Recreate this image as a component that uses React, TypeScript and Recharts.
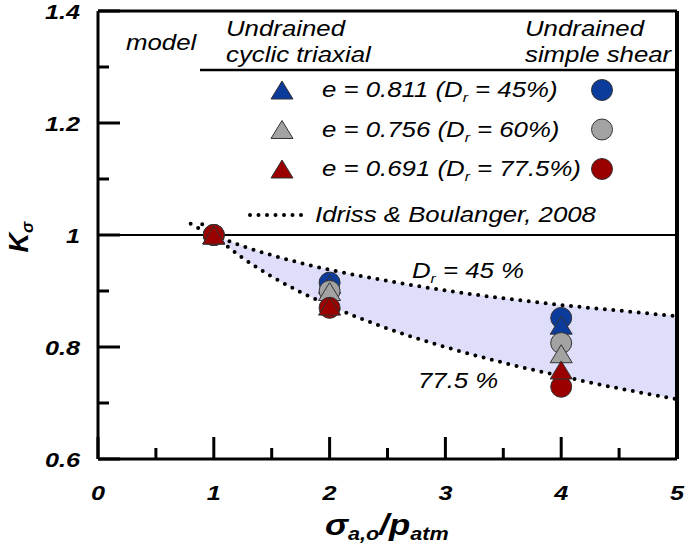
import {
  Area,
  ComposedChart,
  Customized,
  Line,
  ReferenceLine,
  Scatter,
  XAxis,
  YAxis,
} from "recharts";

// Idriss & Boulanger (2008) curves
const curveX = [0.8, 0.9, 1, 1.25, 1.5, 1.75, 2, 2.5, 3, 3.5, 4, 4.5, 5];
const idriss45 = [1.02, 1.009, 1.0, 0.98, 0.964, 0.95, 0.938, 0.918, 0.901, 0.887, 0.875, 0.865, 0.855];
const idriss775 = [null, 1.019, 1.0, 0.959, 0.926, 0.898, 0.874, 0.833, 0.8, 0.772, 0.748, 0.726, 0.707];

// measured K_sigma
const stressRatio = [1, 2, 4];
const ssBlue = [1.0, 0.915, 0.852];
const ssGray = [1.0, 0.9, 0.807];
const ssRed = [1.0, 0.87, 0.729];
const txBlue = [1.0, 0.912, 0.839];
const txGray = [1.0, 0.899, 0.788];
const txRed = [1.0, 0.873, 0.759];

const xTicks = [0, 0.5, 1, 1.5, 2, 2.5, 3, 3.5, 4, 4.5, 5];
const yTicks = [0.6, 0.7, 0.8, 0.9, 1.0, 1.1, 1.2, 1.3, 1.4];

const BLUE = "#0b3b9b";
const GRAY = "#a3a3a3";
const RED = "#9a0000";
const BAND = "#dedefa";
const FONT = "'Liberation Sans', Arial, sans-serif";
const SX = 1.2;
const TXT = 21.5;

const curveRows = curveX.map((x, i) => ({
  x,
  dr45: idriss45[i],
  dr775: idriss775[i],
  band: x >= 1 && idriss775[i] !== null ? [idriss775[i], idriss45[i]] : null,
}));

const pts = (ys: number[]) => stressRatio.map((x, i) => ({ x, y: ys[i] }));

function T({ x, y, size, bold, anchor, children }: any) {
  return (
    <text
      transform={`translate(${x} ${y}) scale(${SX} 1)`}
      fontFamily={FONT}
      fontSize={size}
      fontStyle="italic"
      fontWeight={bold ? "bold" : "normal"}
      textAnchor={anchor ?? "start"}
      fill="#000"
    >
      {children}
    </text>
  );
}

const circle = (fill: string) => (p: any) =>
  <circle cx={p.cx} cy={p.cy} r={10.5} fill={fill} stroke="#333" strokeWidth={1} />;

const triangle = (fill: string) => (p: any) =>
  (
    <polygon
      points={`${p.cx},${p.cy - 9} ${p.cx - 11},${p.cy + 9} ${p.cx + 11},${p.cy + 9}`}
      fill={fill}
      stroke="#333"
      strokeWidth={1}
    />
  );

function XTick({ x, y, payload }: any) {
  const v = payload.value;
  const major = Number.isInteger(v);
  return (
    <g>
      <line x1={x} x2={x} y1={y} y2={y - (major ? 22 : 11)} stroke="#000" strokeWidth={3} />
      {major && (
        <T x={x} y={y + 41} size={21} bold anchor="middle">
          {v}
        </T>
      )}
    </g>
  );
}

function YTick({ x, y, payload }: any) {
  const v = payload.value;
  const major = Math.round(v * 10) % 2 === 0;
  return (
    <g>
      <line x1={x} x2={x + (major ? 22 : 11)} y1={y} y2={y} stroke="#000" strokeWidth={3} />
      {major && (
        <T x={x - 18} y={y + 7.5} size={21} bold anchor="end">
          {String(Number(v.toFixed(1)))}
        </T>
      )}
    </g>
  );
}

const legendRows = [
  { e: "0.811", dr: "45%", color: BLUE },
  { e: "0.756", dr: "60%", color: GRAY },
  { e: "0.691", dr: "77.5%", color: RED },
];

function Annotations() {
  return (
    <g>
      <T x={126} y={50} size={TXT}>model</T>
      <T x={226} y={36} size={TXT}>Undrained</T>
      <T x={226} y={62} size={TXT}>cyclic triaxial</T>
      <T x={525} y={36} size={TXT}>Undrained</T>
      <T x={525} y={62} size={TXT}>simple shear</T>
      <line x1={200} x2={677} y1={70} y2={70} stroke="#000" strokeWidth={2.5} />
      {legendRows.map((r, i) => {
        const cy = 90 + i * 39.5;
        return (
          <g key={r.e}>
            {triangle(r.color)({ cx: 282, cy })}
            {circle(r.color)({ cx: 602, cy })}
            <T x={322} y={cy + 7} size={TXT}>
              e = {r.e} (D
              <tspan fontSize={13} dy={5}>r</tspan>
              <tspan dy={-5}> = {r.dr})</tspan>
            </T>
          </g>
        );
      })}
      <line x1={250} x2={308} y1={215} y2={215} stroke="#000" strokeWidth={4} strokeDasharray="0 8.5" strokeLinecap="round" />
      <T x={315} y={222} size={TXT}>Idriss &amp; Boulanger, 2008</T>
      <T x={412} y={278} size={TXT}>
        D<tspan fontSize={13} dy={5}>r</tspan>
        <tspan dy={-5}> = 45 %</tspan>
      </T>
      <T x={418} y={388} size={TXT}>77.5 %</T>
      <text
        transform="translate(28 237) rotate(-90)"
        fontFamily={FONT}
        fontSize={27}
        fontStyle="italic"
        fontWeight="bold"
        textAnchor="middle"
      >
        K<tspan fontSize={17} dy={5}>σ</tspan>
      </text>
      <T x={325} y={535} size={29} bold>
        σ<tspan fontSize={18} dy={5}>a,o</tspan>
        <tspan dy={-5}>/p</tspan>
        <tspan fontSize={18} dy={5}>atm</tspan>
      </T>
    </g>
  );
}

export default function App() {
  return (
    <div style={{ position: "absolute", left: 0, top: 0, background: "#fff" }}>
      <ComposedChart
        width={685}
        height={548}
        data={curveRows}
        margin={{ top: 11, right: 8, bottom: 88, left: 97 }}
      >
        <XAxis
          type="number"
          dataKey="x"
          domain={[0, 5]}
          ticks={xTicks}
          interval={0}
          height={1}
          tickSize={0}
          tickMargin={0}
          tickLine={false}
          tick={<XTick />}
          axisLine={{ stroke: "#000", strokeWidth: 3 }}
        />
        <YAxis
          type="number"
          domain={[0.6, 1.4]}
          ticks={yTicks}
          interval={0}
          width={1}
          tickSize={0}
          tickMargin={0}
          tickLine={false}
          tick={<YTick />}
          axisLine={{ stroke: "#000", strokeWidth: 3 }}
        />
        <Area
          dataKey="band"
          type="monotone"
          fill={BAND}
          fillOpacity={1}
          stroke="none"
          isAnimationActive={false}
        />
        <ReferenceLine y={1.4} stroke="#000" strokeWidth={3} />
        <ReferenceLine x={5} stroke="#000" strokeWidth={4} />
        <ReferenceLine y={1} stroke="#000" strokeWidth={1.8} />
        <Line
          dataKey="dr45"
          type="monotone"
          stroke="#000"
          strokeWidth={4}
          strokeDasharray="0 8.5"
          strokeLinecap="round"
          dot={false}
          isAnimationActive={false}
        />
        <Line
          dataKey="dr775"
          type="monotone"
          stroke="#000"
          strokeWidth={4}
          strokeDasharray="0 8.5"
          strokeLinecap="round"
          dot={false}
          isAnimationActive={false}
        />
        <Scatter data={pts(ssBlue)} dataKey="y" shape={circle(BLUE)} isAnimationActive={false} />
        <Scatter data={pts(txBlue)} dataKey="y" shape={triangle(BLUE)} isAnimationActive={false} />
        <Scatter data={pts(ssGray)} dataKey="y" shape={circle(GRAY)} isAnimationActive={false} />
        <Scatter data={pts(txGray)} dataKey="y" shape={triangle(GRAY)} isAnimationActive={false} />
        <Scatter data={pts(ssRed)} dataKey="y" shape={circle(RED)} isAnimationActive={false} />
        <Scatter data={pts(txRed)} dataKey="y" shape={triangle(RED)} isAnimationActive={false} />
        <Customized component={<Annotations />} />
      </ComposedChart>
    </div>
  );
}
